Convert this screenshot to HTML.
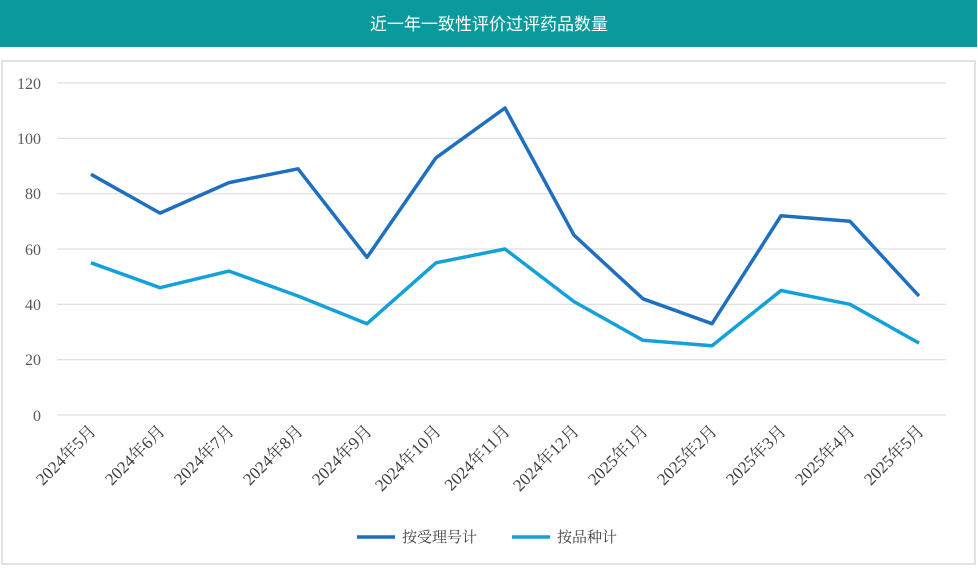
<!DOCTYPE html>
<html><head><meta charset="utf-8"><style>
body{margin:0;background:#fff;width:978px;height:566px;overflow:hidden}
</style></head><body>
<svg width="978" height="566" xmlns="http://www.w3.org/2000/svg" font-family="'Liberation Serif','Noto Serif CJK SC',serif">
<rect x="0" y="0" width="977" height="47" fill="#0a9a9e"/>
<text x="489" y="30" fill="#fff" font-size="17" text-anchor="middle" font-family="'Liberation Sans','Noto Sans CJK SC',sans-serif">近一年一致性评价过评药品数量</text>
<rect x="2" y="61" width="973" height="503" fill="#fff" stroke="#d9d9d9" stroke-width="1.5"/>
<g stroke="#d9d9d9" stroke-width="1">
<line x1="57" x2="946" y1="83" y2="83"/><line x1="57" x2="946" y1="138.3" y2="138.3"/>
<line x1="57" x2="946" y1="193.7" y2="193.7"/><line x1="57" x2="946" y1="249" y2="249"/>
<line x1="57" x2="946" y1="304.3" y2="304.3"/><line x1="57" x2="946" y1="359.7" y2="359.7"/>
<line x1="57" x2="946" y1="415" y2="415"/>
</g>
<g fill="#595959" font-size="16" text-anchor="end">
<text x="41" y="89">120</text><text x="41" y="144">100</text><text x="41" y="199">80</text>
<text x="41" y="255">60</text><text x="41" y="310">40</text><text x="41" y="365">20</text><text x="41" y="421">0</text>
</g>
<polyline fill="none" stroke="#1f6fc0" stroke-width="3.5" stroke-linejoin="round" points="91,174.3 160,213.1 229,182.6 298,168.8 367,257.3 436,157.8 505,108 574,235.2 643,298.8 712,323.7 781,215.8 850,221.3 919,296"/>
<polyline fill="none" stroke="#14a0d8" stroke-width="3.5" stroke-linejoin="round" points="91,262.8 160,287.7 229,271.1 298,296 367,323.7 436,262.8 505,249 574,301.6 643,340.3 712,345.8 781,290.5 850,304.3 919,343.1"/>
<g fill="#404040" font-size="17" text-anchor="end">
<text transform="translate(97,432) rotate(-45)">2024年5月</text>
<text transform="translate(166,432) rotate(-45)">2024年6月</text>
<text transform="translate(235,432) rotate(-45)">2024年7月</text>
<text transform="translate(304,432) rotate(-45)">2024年8月</text>
<text transform="translate(373,432) rotate(-45)">2024年9月</text>
<text transform="translate(442,432) rotate(-45)">2024年10月</text>
<text transform="translate(511,432) rotate(-45)">2024年11月</text>
<text transform="translate(580,432) rotate(-45)">2024年12月</text>
<text transform="translate(649,432) rotate(-45)">2025年1月</text>
<text transform="translate(718,432) rotate(-45)">2025年2月</text>
<text transform="translate(787,432) rotate(-45)">2025年3月</text>
<text transform="translate(856,432) rotate(-45)">2025年4月</text>
<text transform="translate(925,432) rotate(-45)">2025年5月</text>
</g>
<line x1="357" x2="395" y1="537" y2="537" stroke="#1f6fc0" stroke-width="3.5"/>
<text x="402" y="542" font-size="15" fill="#404040">按受理号计</text>
<line x1="512" x2="550" y1="537" y2="537" stroke="#14a0d8" stroke-width="3.5"/>
<text x="557" y="542" font-size="15" fill="#404040">按品种计</text>
</svg>
</body></html>
